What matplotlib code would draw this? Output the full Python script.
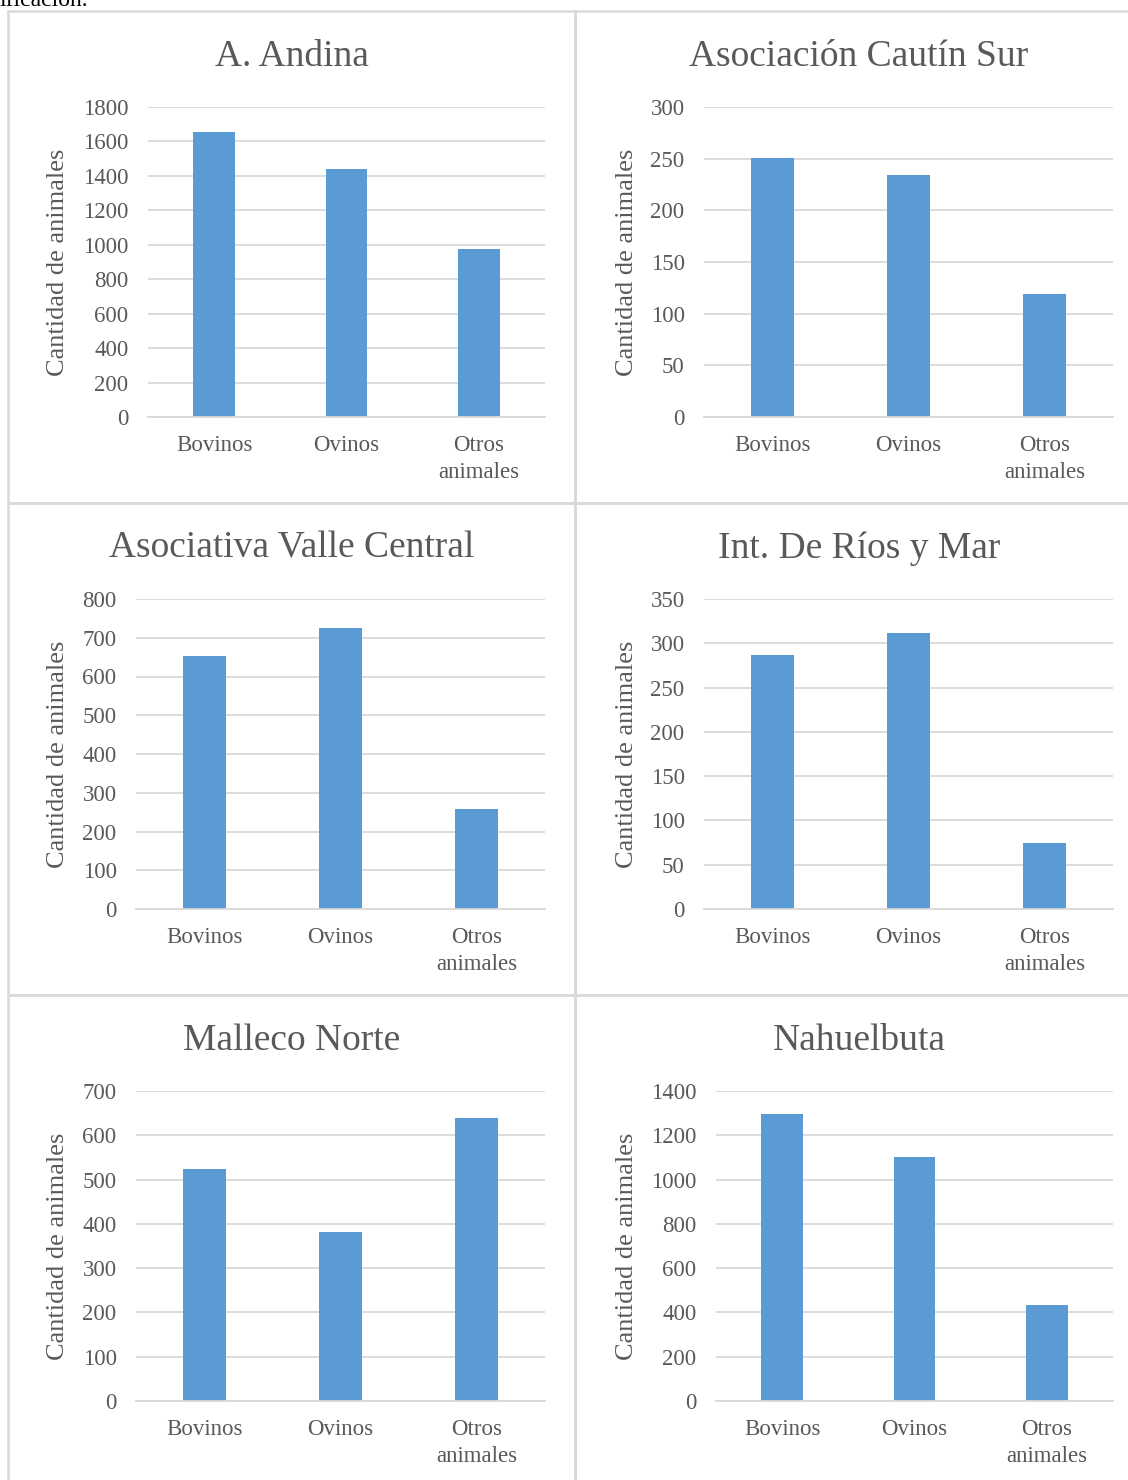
import matplotlib
matplotlib.use("Agg")
import matplotlib.pyplot as plt
from matplotlib.patches import Rectangle

plt.rcParams['font.family'] = ['Liberation Serif', 'DejaVu Serif']

# data
categories = ["Bovinos", "Ovinos", "Otros\nanimales"]
titles = ["A. Andina", "Asociación Cautín Sur", "Asociativa Valle Central",
          "Int. De Ríos y Mar", "Malleco Norte", "Nahuelbuta"]
andina = [1655, 1440, 975]
cautin_sur = [251, 234, 119]
valle_central = [654, 726, 258]
rios_mar = [287, 312, 74]
malleco_norte = [524, 382, 638]
nahuelbuta = [1295, 1103, 433]
ymax = [1800, 300, 800, 350, 700, 1400]
ystep = [200, 50, 100, 50, 100, 200]
series = [andina, cautin_sur, valle_central, rios_mar, malleco_norte, nahuelbuta]

W, H = 1128, 1480
fig = plt.figure(figsize=(W / 100, H / 100), dpi=100)

bar_col = "#5B9BD5"
grid_col = "#D9D9D9"
txt_col = "#595959"

# plot area boxes in pixels (left, right, top, bottom)
boxes = [(148, 545, 107, 417), (704, 1113, 107, 417),
         (136, 545, 599, 909), (704, 1113, 599, 909),
         (136, 545, 1091, 1401), (716, 1113, 1091, 1401)]
panel_x = [(8, 575), (575, 1143)]
panel_y = [11, 503, 995, 1487]

# panel frames
for r in range(3):
    for c in range(2):
        x0, x1 = panel_x[c]
        y0, y1 = panel_y[r], panel_y[r + 1]
        fig.patches.append(Rectangle((x0 / W, 1 - y1 / H), (x1 - x0) / W, (y1 - y0) / H,
                                     transform=fig.transFigure, fill=False,
                                     edgecolor=grid_col, lw=1.8))

# caption fragment, cut off at the top like in the source page
fig.text(0.0, 1 - 6 / H, "ificación.", fontsize=17, color="black",
         ha="left", va="baseline")

for i, vals in enumerate(series):
    l, r_, t, b = boxes[i]
    ax = fig.add_axes([l / W, 1 - b / H, (r_ - l) / W, (b - t) / H])
    ax.bar(range(3), vals, width=0.315, color=bar_col, zorder=3)
    ax.set_xlim(-0.5, 2.5)
    ax.set_ylim(0, ymax[i])
    ax.set_yticks(range(0, ymax[i] + 1, ystep[i]))
    ax.set_xticks(range(3))
    ax.set_xticklabels(categories, linespacing=1.4)
    ax.tick_params(axis="both", length=0, labelsize=16.5, colors=txt_col)
    ax.tick_params(axis="y", pad=14)
    ax.tick_params(axis="x", pad=13)
    ax.yaxis.grid(True, color=grid_col, lw=1.3, zorder=0)
    for s in ["top", "right", "left"]:
        ax.spines[s].set_visible(False)
    ax.spines["bottom"].set_color(grid_col)
    ax.spines["bottom"].set_linewidth(1.3)
    ax.spines["bottom"].set_zorder(4)

    col = i % 2
    row = i // 2
    px0, px1 = panel_x[col]
    cx = (px0 + px1) / 2
    fig.text(cx / W, 1 - (66 + 492 * row) / H, titles[i], fontsize=27,
             color=txt_col, ha="center", va="baseline")
    lx = 58 if col == 0 else 627
    fig.text(lx / W, 1 - ((t + b) / 2) / H, "Cantidad de animales", fontsize=19,
             color=txt_col, rotation=90, ha="center", va="center")

fig.savefig("out.png", dpi=100)
